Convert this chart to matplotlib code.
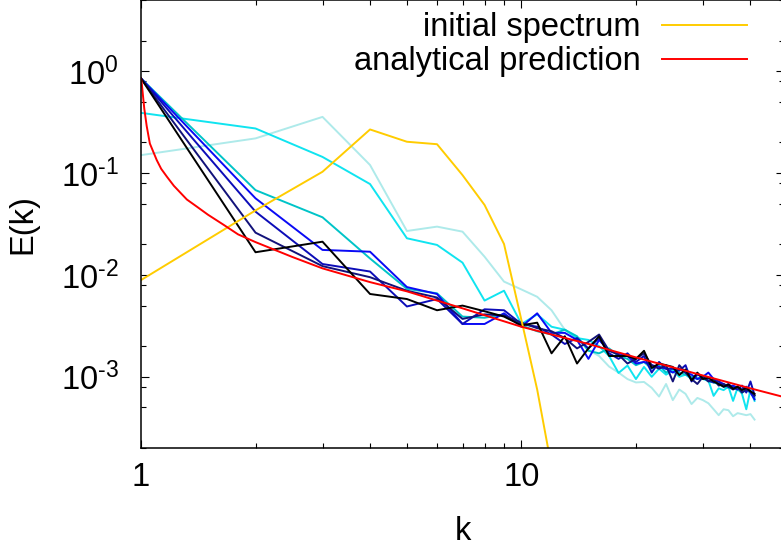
import matplotlib
matplotlib.use("Agg")
import matplotlib.pyplot as plt
from matplotlib.ticker import LogLocator, NullFormatter, FuncFormatter
import math

plt.rcParams["font.family"] = ["Liberation Sans", "DejaVu Sans"]
plt.rcParams["mathtext.default"] = "regular"
plt.rcParams["font.size"] = 23.5

# wavenumbers of the sampled spectra
k = list(range(1, 42))

# spectra at successive times (light cyan -> black)
E_pale = [0.15, 0.219, 0.356, 0.120, 0.027, 0.0298, 0.0266, 0.0151, 0.0086, 0.0072,
          0.0061, 0.0045, 0.0029, 0.0024, 0.00184, 0.0016, 0.00126, 0.0011, 0.00095, 0.00088,
          0.00089, 0.00078, 0.00064, 0.00085, 0.00059, 0.00075, 0.00068, 0.00054, 0.00062, 0.00059,
          0.00055, 0.00048, 0.00042, 0.00048, 0.00047, 0.00041, 0.00044, 0.00043, 0.00042, 0.00043,
          0.00038]
E_cyan = [0.39, 0.274, 0.144, 0.078, 0.0229, 0.0197, 0.0132, 0.0056, 0.0070, 0.0033,
          0.0041, 0.0031, 0.0029, 0.0024, 0.0023, 0.0020, 0.0016, 0.00109, 0.00129, 0.00095,
          0.00125, 0.00100, 0.00120, 0.00105, 0.00115, 0.00100, 0.00105, 0.00095, 0.00098, 0.00095,
          0.00092, 0.00065, 0.00077, 0.00074, 0.00080, 0.00058, 0.00078, 0.00068, 0.00048, 0.00075,
          0.00058]
E_teal = [0.85, 0.068, 0.0368, 0.0145, 0.0073, 0.0066, 0.0039, 0.0038, 0.0041, 0.0032,
          0.0028, 0.0026, 0.0029, 0.0025, 0.0018, 0.0017, 0.0019, 0.0016, 0.0015, 0.0013,
          0.0014, 0.0012, 0.0013, 0.0011, 0.0012, 0.0011, 0.00105, 0.0010, 0.00095, 0.00098,
          0.0009, 0.00088, 0.00085, 0.0008, 0.00078, 0.0008, 0.00075, 0.0007, 0.00074, 0.0007,
          0.00062]
E_blue = [0.85, 0.0565, 0.0176, 0.0169, 0.0076, 0.0065, 0.0033, 0.0033, 0.0042, 0.0031,
          0.0042, 0.0027, 0.0027, 0.0023, 0.0015, 0.0023, 0.0018, 0.0017, 0.0016, 0.00135,
          0.0014, 0.0013, 0.00125, 0.0012, 0.0011, 0.0012, 0.0011, 0.00105, 0.00095, 0.0010,
          0.0011, 0.00095, 0.0009, 0.00085, 0.0008, 0.00082, 0.00078, 0.00075, 0.0008, 0.0007,
          0.0006]
E_mblue = [0.85, 0.0418, 0.0128, 0.0108, 0.0049, 0.0058, 0.0033, 0.0046, 0.0045, 0.0033,
           0.0031, 0.0026, 0.0021, 0.0024, 0.0019, 0.0024, 0.0017, 0.0015, 0.0017, 0.0014,
           0.0016, 0.0011, 0.0014, 0.0012, 0.0012, 0.00115, 0.0013, 0.0009, 0.00105, 0.0010,
           0.00092, 0.00088, 0.0009, 0.0008, 0.00085, 0.00078, 0.00075, 0.00082, 0.0007, 0.0009,
           0.00066]
E_navy = [0.85, 0.026, 0.0122, 0.0095, 0.0070, 0.0060, 0.0037, 0.0041, 0.0040, 0.0034,
          0.0030, 0.0028, 0.0024, 0.0019, 0.0022, 0.0026, 0.0018, 0.00165, 0.00135, 0.0015,
          0.0017, 0.0013, 0.0012, 0.0013, 0.0009, 0.0013, 0.0011, 0.00095, 0.00085, 0.0010,
          0.0009, 0.00095, 0.00082, 0.00085, 0.0008, 0.00075, 0.0008, 0.0007, 0.00075, 0.00072,
          0.00065]
E_black = [0.85, 0.0167, 0.0212, 0.0065, 0.0058, 0.0045, 0.0050, 0.0044, 0.0039, 0.0032,
           0.0034, 0.0017, 0.0025, 0.00135, 0.0019, 0.0025, 0.0016, 0.0016, 0.0016, 0.0015,
           0.0018, 0.00122, 0.00135, 0.0013, 0.00125, 0.00104, 0.00118, 0.00092, 0.0011, 0.00095,
           0.00098, 0.0009, 0.00085, 0.0008, 0.00084, 0.00076, 0.0008, 0.00074, 0.00078, 0.00072,
           0.00068]

# initial spectrum
k_init = list(range(1, 14))
E_init = [0.0089, 0.043, 0.103, 0.268, 0.203, 0.192, 0.0955, 0.0486, 0.0201, 0.0036,
          0.00075, 0.00013, 0.00001]

# analytical prediction
k_pred = [1.0, 1.005, 1.01, 1.02, 1.035, 1.055, 1.1, 1.13, 1.17, 1.22, 1.27, 1.32, 1.4,
          1.5, 1.65, 1.8, 2, 2.5, 3, 4, 5, 7, 10, 15, 20, 30, 40, 50]
E_pred = [0.85, 0.75, 0.62, 0.43, 0.29, 0.195, 0.134, 0.11, 0.092, 0.075, 0.064, 0.055,
          0.047, 0.039, 0.031, 0.025, 0.021, 0.015, 0.0116, 0.0085, 0.0069, 0.0047, 0.0031,
          0.0021, 0.00155, 0.00103, 0.00077, 0.00062]

series = [E_pale, E_cyan, E_teal, E_blue, E_mblue, E_navy, E_black]
colors = ["#aeeaea", "#10e4f0", "#00c4c8", "#0a0af5", "#0c0cb8", "#12127a", "#000000"]

fig = plt.figure(figsize=(7.81, 5.5), dpi=100)
ax = fig.add_axes([141 / 781, 102 / 550, 643 / 781, 448 / 550])

for E, c in zip(series, colors):
    ax.plot(k, E, color=c, lw=1.4)
ax.plot(k_init, E_init, color="#ffcc00", lw=1.4, label="initial spectrum")
ax.plot(k_pred, E_pred, color="#ff0000", lw=1.4, label="analytical prediction")

ax.set_xscale("log")
ax.set_yscale("log")
ax.set_xlim(1, 49)
ax.set_ylim(2e-4, 5)


def pow10(v, pos):
    n = int(round(math.log10(v)))
    exp = str(n).replace("-", "\u2010")
    return "$10^{%s}$" % exp


ax.set_xticks([1, 10], ["1", "10"])
ax.xaxis.set_minor_locator(LogLocator(subs=range(2, 10)))
ax.xaxis.set_minor_formatter(NullFormatter())
ax.yaxis.set_major_locator(LogLocator(base=10))
ax.yaxis.set_major_formatter(FuncFormatter(pow10))
ax.yaxis.set_minor_locator(LogLocator(subs=(2, 5, 8)))
ax.yaxis.set_minor_formatter(NullFormatter())

ax.tick_params(which="both", direction="in", top=True, right=True, width=0.8)
ax.tick_params(which="major", length=6)
ax.tick_params(which="minor", length=3.5)
ax.tick_params(axis="y", pad=16)
ax.tick_params(axis="x", pad=10)
for s in ax.spines.values():
    s.set_linewidth(1.1)

ax.set_xlabel("k")
ax.set_ylabel("E(k)")
ax.xaxis.set_label_coords(0.5, -0.152)
ax.yaxis.set_label_coords(-0.16, 0.5)

ax.legend(loc="upper right", bbox_to_anchor=(0.9425, 0.973), frameon=False,
          markerfirst=False, handlelength=2.6, handletextpad=0.67,
          borderpad=0, borderaxespad=0, labelspacing=0.09, fontsize=23.5)

fig.savefig("out.png", dpi=100)
plt.close(fig)
